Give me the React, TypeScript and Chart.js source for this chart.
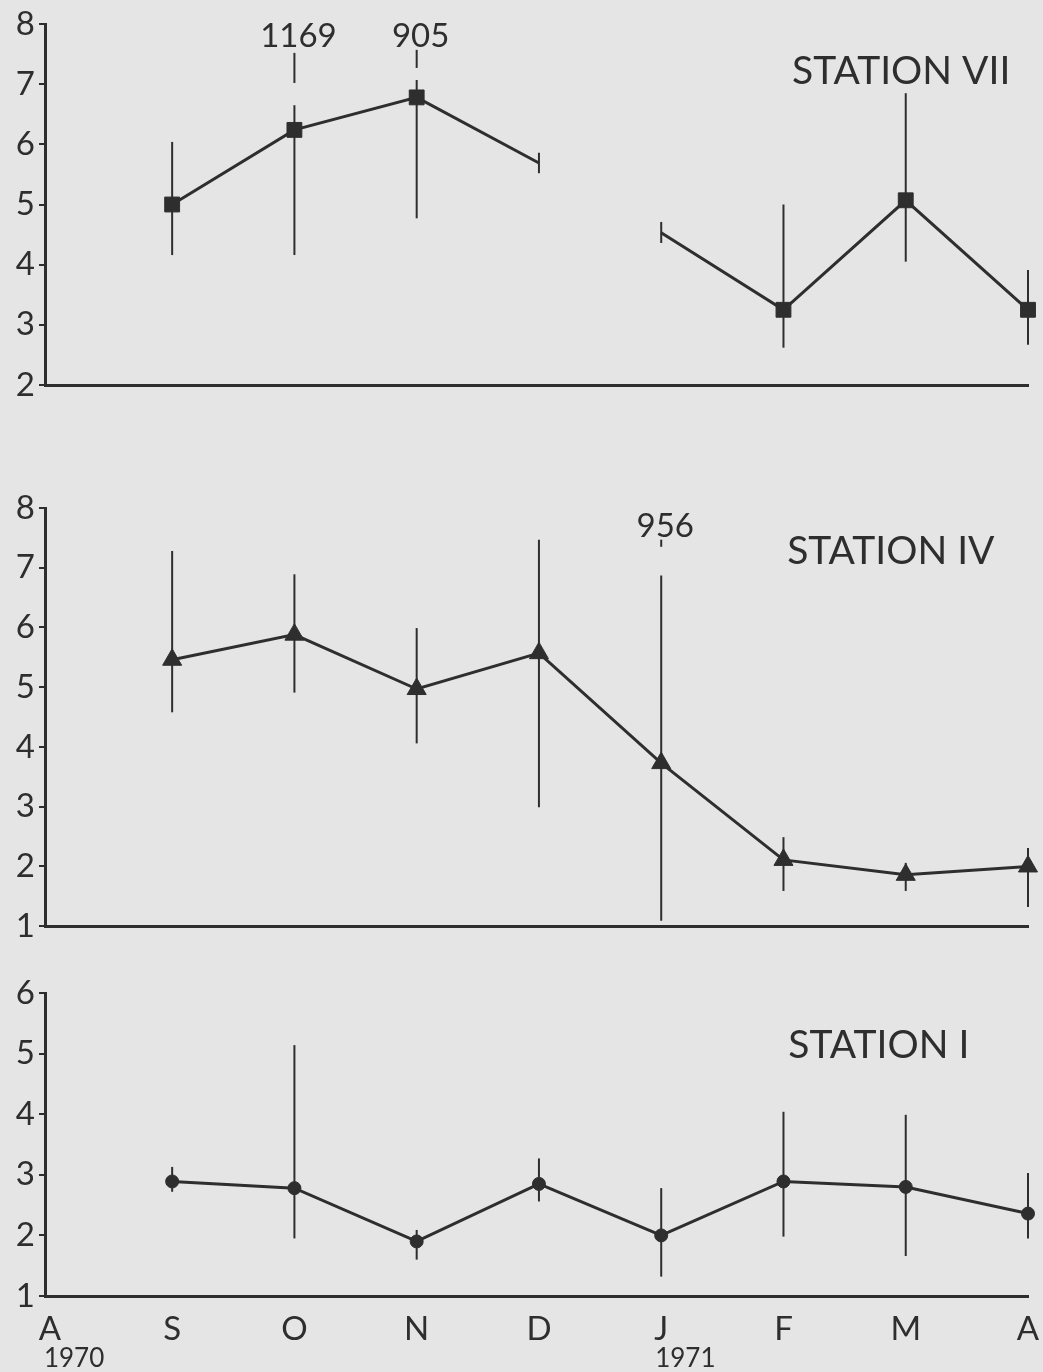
import React, { useEffect, useRef } from 'react';
import { Chart, registerables } from 'chart.js';

Chart.register(...registerables);

// ---------- data ----------
const MONTHS = ['A', 'S', 'O', 'N', 'D', 'J', 'F', 'M', 'A'];
const YEAR_LABELS = ['1970', '', '', '', '', '1971', '', '', ''];

// Station VII (break in the line between D and J)
const VII_MEAN = [null, 5.0, 6.24, 6.78, 5.69, 4.53, 3.25, 5.07, 3.25];
const VII_LOW = [null, 4.16, 4.16, 4.77, 5.52, 4.36, 2.62, 4.05, 2.67];
const VII_HIGH = [null, 6.04, 6.65, 7.07, 5.86, 4.71, 5.0, 6.85, 3.91];
const VII_MARKER = [false, true, true, true, false, false, true, true, true];
const VII_EXT_LOW = [null, null, 7.02, 7.27, null, null, null, null, null];
const VII_EXT_HIGH = [null, null, 7.52, 7.57, null, null, null, null, null];
const VII_EXT_LABEL = ['', '', '1169', '905', '', '', '', '', ''];

// Station IV
const IV_MEAN = [null, 5.46, 5.88, 4.97, 5.57, 3.73, 2.11, 1.86, 2.0];
const IV_LOW = [null, 4.58, 4.91, 4.06, 2.99, 1.09, 1.59, 1.59, 1.32];
const IV_HIGH = [null, 7.28, 6.89, 5.99, 7.47, 6.87, 2.49, 2.06, 2.31];
const IV_MARKER = [false, true, true, true, true, true, true, true, true];
const IV_EXT_LOW = [null, null, null, null, null, 7.35, null, null, null];
const IV_EXT_HIGH = [null, null, null, null, null, 7.47, null, null, null];
const IV_EXT_LABEL = ['', '', '', '', '', '956', '', '', ''];

// Station I
const I_MEAN = [null, 2.89, 2.78, 1.9, 2.85, 2.0, 2.89, 2.8, 2.36];
const I_LOW = [null, 2.72, 1.95, 1.6, 2.56, 1.32, 1.98, 1.66, 1.95];
const I_HIGH = [null, 3.13, 5.14, 2.09, 3.27, 2.78, 4.04, 3.99, 3.03];
const I_MARKER = [false, true, true, true, true, true, true, true, true];

// ---------- styling ----------
const INK = '#2e2e2e';
const BG = '#e5e5e5';
const FONT = 'Lato, "Noto Sans", sans-serif';
const W = 1043;
const X_MIN = -0.04;
const X_MAX = 8;

type Panel = {
  top: number;
  height: number;
  padTop: number;
  padBottom: number;
  xh: number;
  yMin: number;
  yMax: number;
  mean: (number | null)[];
  low: (number | null)[];
  high: (number | null)[];
  marker: boolean[];
  style: string;
  radius: number;
  breakAfter: number;
  extLow?: (number | null)[];
  extHigh?: (number | null)[];
  extLabel?: string[];
  extLabelY?: number;
  title: string;
  titleX: number;
  titleY: number;
  showX: boolean;
};

const PANELS: Panel[] = [
  {
    top: 0, height: 460, padTop: 24, padBottom: 70, xh: 5, yMin: 2, yMax: 8,
    mean: VII_MEAN, low: VII_LOW, high: VII_HIGH, marker: VII_MARKER,
    style: 'rect', radius: 10.5, breakAfter: 4,
    extLow: VII_EXT_LOW, extHigh: VII_EXT_HIGH, extLabel: VII_EXT_LABEL, extLabelY: 7.8,
    title: 'STATION VII', titleX: 6.07, titleY: 7.22, showX: false,
  },
  {
    top: 460, height: 490, padTop: 48, padBottom: 13, xh: 5, yMin: 1, yMax: 8,
    mean: IV_MEAN, low: IV_LOW, high: IV_HIGH, marker: IV_MARKER,
    style: 'triangle', radius: 11, breakAfter: -1,
    extLow: IV_EXT_LOW, extHigh: IV_EXT_HIGH, extLabel: IV_EXT_LABEL, extLabelY: 7.69,
    title: 'STATION IV', titleX: 6.03, titleY: 7.27, showX: false,
  },
  {
    top: 950, height: 422, padTop: 43, padBottom: 0, xh: 76, yMin: 1, yMax: 6,
    mean: I_MEAN, low: I_LOW, high: I_HIGH, marker: I_MARKER,
    style: 'circle', radius: 6.5, breakAfter: -1,
    title: 'STATION I', titleX: 6.04, titleY: 5.13, showX: true,
  },
];

function makeDecor(p: Panel) {
  return {
    id: 'decor',
    beforeDatasetsDraw(chart: any) {
      const { ctx, scales } = chart;
      const xs = scales.x, ys = scales.y;
      ctx.save();
      ctx.strokeStyle = INK;
      ctx.lineWidth = 2;
      ctx.lineCap = 'butt';
      const bar = (i: number, lo: number | null, hi: number | null) => {
        if (lo == null || hi == null) return;
        const x = xs.getPixelForValue(i);
        ctx.beginPath();
        ctx.moveTo(x, ys.getPixelForValue(lo));
        ctx.lineTo(x, ys.getPixelForValue(hi));
        ctx.stroke();
      };
      p.low.forEach((lo, i) => bar(i, lo, p.high[i]));
      if (p.extLow && p.extHigh) p.extLow.forEach((lo, i) => bar(i, lo, p.extHigh![i]));
      ctx.restore();
    },
    afterDraw(chart: any) {
      const { ctx, scales } = chart;
      const xs = scales.x, ys = scales.y;
      ctx.save();
      ctx.fillStyle = INK;
      ctx.textBaseline = 'middle';
      if (p.extLabel) {
        ctx.font = `33px ${FONT}`;
        ctx.textAlign = 'center';
        p.extLabel.forEach((t, i) => {
          if (!t) return;
          ctx.fillText(t, xs.getPixelForValue(i) + 4, ys.getPixelForValue(p.extLabelY!));
        });
      }
      ctx.font = `39px ${FONT}`;
      ctx.textAlign = 'left';
      ctx.fillText(p.title, xs.getPixelForValue(p.titleX), ys.getPixelForValue(p.titleY));
      if (p.showX) {
        ctx.font = `26px ${FONT}`;
        ctx.textAlign = 'left';
        ctx.textBaseline = 'top';
        YEAR_LABELS.forEach((t, i) => {
          if (!t) return;
          ctx.fillText(t, xs.getPixelForValue(i) - 6, chart.chartArea.bottom + 50);
        });
      }
      ctx.restore();
    },
  };
}

function makeConfig(p: Panel): any {
  return {
    type: 'line',
    data: {
      datasets: [
        {
          data: p.mean.map((v, i) => ({ x: i, y: v })),
          borderColor: INK,
          borderWidth: 3,
          pointStyle: p.style,
          pointRadius: p.marker.map((m) => (m ? p.radius : 0)),
          pointBackgroundColor: INK,
          pointBorderColor: INK,
          pointBorderWidth: 1,
          spanGaps: false,
          clip: false,
          tension: 0,
          segment: {
            borderColor: (c: any) => (c.p0DataIndex === p.breakAfter ? 'rgba(0,0,0,0)' : INK),
          },
        },
      ],
    },
    options: {
      animation: false,
      responsive: false,
      devicePixelRatio: 1,
      events: [],
      layout: { padding: { left: 0, right: 15, top: p.padTop, bottom: p.padBottom } },
      plugins: { legend: { display: false }, tooltip: { enabled: false } },
      scales: {
        x: {
          type: 'linear',
          min: X_MIN,
          max: X_MAX,
          afterFit: (s: any) => {
            s.height = p.xh;
            s.paddingLeft = 0;
            s.paddingRight = 0;
          },
          ticks: {
            display: p.showX,
            stepSize: 1,
            includeBounds: false,
            autoSkip: false,
            maxRotation: 0,
            padding: 14,
            color: INK,
            font: { family: FONT, size: 33 },
            callback: (v: number) => MONTHS[v] ?? '',
          },
          grid: { display: false, drawTicks: false, drawOnChartArea: false },
          border: { display: true, color: INK, width: 3 },
        },
        y: {
          min: p.yMin,
          max: p.yMax,
          afterFit: (s: any) => { s.width = 45; },
          ticks: {
            stepSize: 1,
            padding: 4,
            color: INK,
            font: { family: FONT, size: 33 },
          },
          grid: { display: true, drawOnChartArea: false, drawTicks: true, tickLength: 6, color: INK, lineWidth: 2 },
          border: { display: true, color: INK, width: 3 },
        },
      },
    },
    plugins: [makeDecor(p)],
  };
}

function PanelChart({ p }: { p: Panel }) {
  const ref = useRef<HTMLCanvasElement | null>(null);
  useEffect(() => {
    if (!ref.current) return;
    const chart = new Chart(ref.current, makeConfig(p));
    return () => chart.destroy();
  }, [p]);
  return (
    <canvas
      ref={ref}
      width={W}
      height={p.height}
      style={{ position: 'absolute', left: 0, top: p.top, width: W, height: p.height, display: 'block' }}
    />
  );
}

export default function App() {
  return (
    <div style={{ position: 'absolute', left: 0, top: 0, width: W, height: 1372, background: BG, overflow: 'hidden' }}>
      {PANELS.map((p, i) => (
        <PanelChart key={i} p={p} />
      ))}
    </div>
  );
}
